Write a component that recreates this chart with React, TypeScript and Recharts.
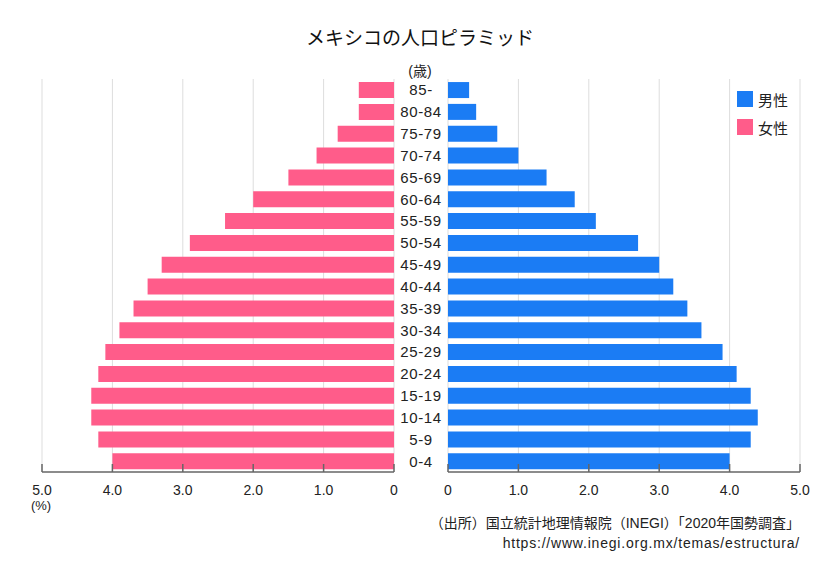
import React from "react"
import { Bar, BarChart, CartesianGrid, Legend, XAxis, YAxis } from "recharts"

// 年齢階級（上から順）
const ageGroups = [
  "85-", "80-84", "75-79", "70-74", "65-69", "60-64", "55-59", "50-54", "45-49",
  "40-44", "35-39", "30-34", "25-29", "20-24", "15-19", "10-14", "5-9", "0-4",
]
// 男性（%）
const maleValues = [0.3, 0.4, 0.7, 1.0, 1.4, 1.8, 2.1, 2.7, 3.0, 3.2, 3.4, 3.6, 3.9, 4.1, 4.3, 4.4, 4.3, 4.0]
// 女性（%）
const femaleValues = [0.5, 0.5, 0.8, 1.1, 1.5, 2.0, 2.4, 2.9, 3.3, 3.5, 3.7, 3.9, 4.1, 4.2, 4.3, 4.3, 4.2, 4.0]
const xTicks = [0, 1, 2, 3, 4, 5]
const seriesNames = ["男性", "女性"]

const MALE = "#1b7cf4"
const FEMALE = "#ff5c8a"
const FONT = "'Liberation Sans', 'Noto Sans CJK JP', sans-serif"

const data = ageGroups.map((age, i) => ({ age, male: maleValues[i], female: femaleValues[i] }))

const fmt = (v: number) => (v === 0 ? "0" : v.toFixed(1))

const BottomTick = (props: any) => {
  const { x, y, payload } = props
  return (
    <g>
      <line x1={x} x2={x} y1={y - 8} y2={y} stroke="#666" strokeWidth={1.5} />
      <text x={x} y={y + 23} textAnchor="middle" fontSize={14} fill="#222" fontFamily={FONT}>
        {fmt(payload.value)}
      </text>
    </g>
  )
}

const AgeTick = (props: any) => {
  const { x, y, payload } = props
  return (
    <text x={x - 27} y={y + 5.5} textAnchor="middle" fontSize={15} letterSpacing={0.6} fill="#222" fontFamily={FONT}>
      {payload.value}
    </text>
  )
}

const LegendBox = () => (
  <div style={{ fontFamily: FONT, fontSize: 15, color: "#222" }}>
    {seriesNames.map((name, i) => (
      <div key={name} style={{ display: "flex", alignItems: "center", height: 28 }}>
        <span style={{ width: 16, height: 16, background: i === 0 ? MALE : FEMALE, marginRight: 5, display: "inline-block" }} />
        {name}
      </div>
    ))}
  </div>
)

const margin = { top: 79, bottom: 73 }

export default function App() {
  return (
    <div style={{ position: "absolute", left: 0, top: 0, width: 840, height: 575, background: "#fff", fontFamily: FONT }}>
      <div style={{ position: "absolute", left: 0, width: 840, top: 23, textAlign: "center", fontSize: 19, color: "#111" }}>
        メキシコの人口ピラミッド
      </div>
      <div style={{ position: "absolute", left: 380, width: 80, top: 60, textAlign: "center", fontSize: 14, color: "#222" }}>
        (歳)
      </div>

      <div style={{ position: "absolute", left: 0, top: 0 }}>
        <BarChart width={414} height={575} layout="vertical" data={data} barCategoryGap="14%"
          margin={{ ...margin, left: 42, right: 20 }}>
          <CartesianGrid horizontal={false} stroke="#ddd" />
          <XAxis type="number" domain={[0, 5]} ticks={xTicks} reversed height={30}
            axisLine={{ stroke: "#666", strokeWidth: 1.5 }} tickLine={false} tickSize={0} tickMargin={0}
            tick={<BottomTick />} interval={0} />
          <XAxis xAxisId="top" orientation="top" type="number" domain={[0, 5]} reversed height={0}
            tick={false} tickLine={false} axisLine={{ stroke: "#333", strokeWidth: 1.5 }} />
          <YAxis type="category" dataKey="age" hide />
          <Bar dataKey="female" fill={FEMALE} isAnimationActive={false} />
        </BarChart>
      </div>

      <div style={{ position: "absolute", left: 394, top: 0 }}>
        <BarChart width={446} height={575} layout="vertical" data={data} barCategoryGap="14%"
          margin={{ ...margin, left: 0, right: 40 }}>
          <CartesianGrid horizontal={false} stroke="#ddd" />
          <XAxis type="number" domain={[0, 5]} ticks={xTicks} height={30}
            axisLine={{ stroke: "#666", strokeWidth: 1.5 }} tickLine={false} tickSize={0} tickMargin={0}
            tick={<BottomTick />} interval={0} />
          <XAxis xAxisId="top" orientation="top" type="number" domain={[0, 5]} height={0}
            tick={false} tickLine={false} axisLine={{ stroke: "#333", strokeWidth: 1.5 }} />
          <YAxis type="category" dataKey="age" width={54} axisLine={false} tickLine={false}
            tickSize={0} tickMargin={0} tick={<AgeTick />} interval={0} />
          <Bar dataKey="male" fill={MALE} isAnimationActive={false} />
          <Legend layout="vertical" align="center" verticalAlign="middle" content={<LegendBox />}
            wrapperStyle={{ position: "absolute", left: 343, top: 85, width: 70 }} />
        </BarChart>
      </div>

      <div style={{ position: "absolute", left: 10, width: 62, top: 498, textAlign: "center", fontSize: 13, color: "#222" }}>
        (%)
      </div>
      <div style={{ position: "absolute", right: 40, top: 512, textAlign: "right", fontSize: 14, color: "#222", whiteSpace: "nowrap" }}>
        （出所）国立統計地理情報院（INEGI）「2020年国勢調査」
      </div>
      <div style={{ position: "absolute", right: 40, top: 535, textAlign: "right", fontSize: 14, letterSpacing: 0.8, color: "#222", whiteSpace: "nowrap" }}>
        https://www.inegi.org.mx/temas/estructura/
      </div>
    </div>
  )
}
